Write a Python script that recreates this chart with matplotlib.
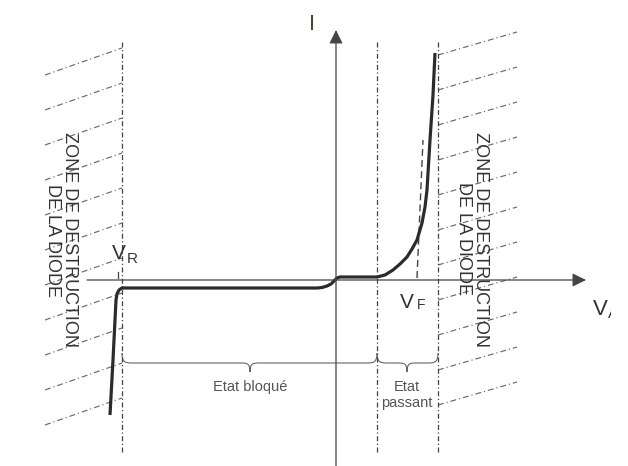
import matplotlib.pyplot as plt
from matplotlib.path import Path
from matplotlib.patches import PathPatch
from matplotlib.transforms import Bbox, TransformedBbox

plt.rcParams['font.family'] = ['Liberation Sans', 'DejaVu Sans']

# caracteristique I(V) de la diode (unites arbitraires, origine = croisement des axes)
curve_v = [-226, -223, -220, -219, -217, -214, -19, -14, -9, -5, -2, 1, 4, 36, 41,
           49, 57, 64, 71, 76, 81, 86, 89, 91, 94, 97, 99]
curve_i = [-135, -80, -20, -14, -10, -8, -8, -7.5, -6, -4, -1, 2, 3, 3, 3,
           5, 10, 16, 23, 31, 40, 57, 73, 90, 140, 185, 227]

# limites des zones
zone_x = [-214, 41, 102]          # V_R, debut conduction, limite destruction
zone_top = 240
zone_bottom = -172

# tangente en pointilles (V_F)
tangent_v = [81, 87]
tangent_i = [2, 140]

# hachures des zones de destruction (y aux deux bouts)
left_hatch_x = [-291, -214]
left_hatch_y0 = [205, 170, 135, 100, 65, 30, -5, -40, -75, -110, -145]
left_hatch_y1 = [232, 197, 162, 127, 92, 57, 22, -13, -48, -83, -118]
right_hatch_x = [102, 181]
right_hatch_y0 = [225, 190, 155, 120, 85, 50, 15, -20, -55, -90, -125]
right_hatch_y1 = [248, 213, 178, 143, 108, 73, 38, 3, -32, -67, -102]

zone_label = "ZONE DE DESTRUCTION\nDE LA DIODE"


def draw_brace(ax, x0, x1, xm, y0, h=10, t=9, r=10):
    verts = [(x0, y0), (x0, y0 - h * 0.9), (x0 + r * 0.3, y0 - h), (x0 + r, y0 - h),
             (xm - r, y0 - h),
             (xm - r * 0.3, y0 - h), (xm, y0 - h), (xm, y0 - h - t),
             (xm, y0 - h), (xm + r * 0.3, y0 - h), (xm + r, y0 - h),
             (x1 - r, y0 - h),
             (x1 - r * 0.3, y0 - h), (x1, y0 - h * 0.9), (x1, y0)]
    codes = [Path.MOVETO, Path.CURVE4, Path.CURVE4, Path.CURVE4,
             Path.LINETO,
             Path.CURVE4, Path.CURVE4, Path.CURVE4,
             Path.CURVE4, Path.CURVE4, Path.CURVE4,
             Path.LINETO,
             Path.CURVE4, Path.CURVE4, Path.CURVE4]
    ax.add_patch(PathPatch(Path(verts, codes), fill=False, lw=0.8, ec='#666'))


fig = plt.figure(figsize=(6.28, 4.66), dpi=100)
ax = fig.add_axes([0, 0, 1, 1])
ax.set_xlim(-336, 292)
ax.set_ylim(-186, 280)
ax.axis('off')

hatch_style = dict(color='#6a6a6a', lw=0.85, ls=(0, (5, 2.5, 1, 2.5)))
for y0, y1 in zip(left_hatch_y0, left_hatch_y1):
    ax.plot(left_hatch_x, [y0, y1], **hatch_style)
for y0, y1 in zip(right_hatch_y0, right_hatch_y1):
    ax.plot(right_hatch_x, [y0, y1], **hatch_style)

for x in zone_x:
    ax.plot([x, x], [zone_bottom, zone_top], color='#444', lw=0.9, ls=(0, (4, 2, 1, 2)))

# axes V et I
arrow = dict(arrowstyle='-|>,head_length=0.55,head_width=0.27', mutation_scale=15,
             lw=0.9, color='#444', shrinkA=0, shrinkB=0)
ax.annotate('', xy=(250, 0), xytext=(-249, 0), arrowprops=arrow)
ax.annotate('', xy=(0, 250), xytext=(0, -190), arrowprops=arrow)

ax.plot(tangent_v, tangent_i, color='#444', lw=1, ls=(0, (5, 3)))
ax.plot([-218, -218], [2, 8], color='#444', lw=0.9)

ax.plot(curve_v, curve_i, color='#2b2b2b', lw=2.3, solid_capstyle='butt', solid_joinstyle='round')

draw_brace(ax, -214, 41, -86, -73)
draw_brace(ax, 41, 102, 71, -73)

ax.text(-86, -107, "Etat bloqué", ha='center', va='center', fontsize=10.5, color='#555')
ax.text(71, -115, "Etat\npassant", ha='center', va='center', fontsize=10.5, color='#555',
        linespacing=1.1)

ax.text(-275, 40, zone_label, rotation=-90, ha='center', va='center', fontsize=13,
        color='#333', linespacing=1.0, multialignment='center')
ax.text(136, 41, zone_label, rotation=-90, ha='center', va='center', fontsize=13,
        color='#333', linespacing=1.0, multialignment='center')

ax.text(-24, 255, "I", ha='center', va='center', fontsize=16, color='#4a4536')
ax.text(-224, 21, "V", ha='left', va='baseline', fontsize=15, color='#333')
ax.text(-209, 17, "R", ha='left', va='baseline', fontsize=11, color='#333')
ax.text(64, -28, "V", ha='left', va='baseline', fontsize=15, color='#333')
ax.text(81, -29, "F", ha='left', va='baseline', fontsize=10, color='#333')

# le V_A est coupe par le bord de l'image
clip_box = TransformedBbox(Bbox([[200, -60], [275, -10]]), ax.transData)
t1 = ax.text(257, -35, "V", ha='left', va='baseline', fontsize=16, color='#333')
t2 = ax.text(272, -38, "A", ha='left', va='baseline', fontsize=11, color='#333')
for t in (t1, t2):
    t.set_clip_on(True)
    t.set_clip_box(clip_box)

fig.savefig('out.png', dpi=100)
